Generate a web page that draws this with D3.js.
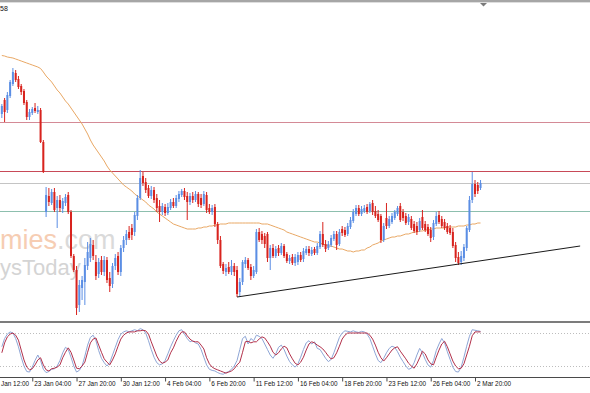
<!DOCTYPE html>
<html>
<head>
<meta charset="utf-8">
<script src="https://cdn.jsdelivr.net/npm/d3@7"></script>
<style>
  html, body { margin: 0; padding: 0; background: #fff; overflow: hidden; }
  svg { display: block; font-family: "Liberation Sans", Arial, sans-serif; }
</style>
</head>
<body>
<div id="chart"></div>
<script>
// H4 bars, bar 0 = 20 Jan 12:00, first bar drawn is 5
const firstBar = 5;

const open = [
  1.1486,1.1500,1.1490,1.1504,1.1516,1.1527,1.1521,1.1514,1.1509,1.1498,
  1.1483,1.1487,1.1492,1.1488,1.1490,1.1458,1.1388,1.1404,1.1397,1.1408,
  1.1392,1.1400,1.1391,1.1397,1.1405,1.1388,1.1344,1.1330,1.1295,1.1312,
  1.1318,1.1334,1.1342,1.1355,1.1338,1.1326,1.1340,1.1328,1.1340,1.1322,
  1.1316,1.1334,1.1344,1.1328,1.1352,1.1360,1.1368,1.1372,1.1368,1.1384,
  1.1402,1.1424,1.1418,1.1412,1.1404,1.1410,1.1402,1.1394,1.1388,1.1393,
  1.1387,1.1392,1.1398,1.1394,1.1401,1.1405,1.1409,1.1404,1.1398,1.1404,
  1.1400,1.1406,1.1402,1.1396,1.1405,1.1392,1.1388,1.1393,1.1376,1.1360,
  1.1336,1.1328,1.1333,1.1328,1.1334,1.1330,1.1308,1.1318,1.1336,1.1340,
  1.1333,1.1324,1.1328,1.1368,1.1366,1.1364,1.1366,1.1342,1.1352,1.1344,
  1.1352,1.1347,1.1354,1.1346,1.1339,1.1343,1.1337,1.1338,1.1345,1.1341,
  1.1347,1.1351,1.1346,1.1351,1.1347,1.1353,1.1366,1.1356,1.1352,1.1355,
  1.1361,1.1366,1.1356,1.1371,1.1370,1.1366,1.1373,1.1379,1.1386,1.1392,
  1.1386,1.1389,1.1393,1.1389,1.1397,1.1389,1.1386,1.1384,1.1360,1.1382,
  1.1374,1.1378,1.1382,1.1386,1.1394,1.1388,1.1384,1.1378,1.1381,1.1376,
  1.1374,1.1370,1.1383,1.1376,1.1373,1.1370,1.1363,1.1376,1.1385,1.1381,
  1.1378,1.1374,1.1372,1.1368,1.1355,1.1343,1.1338,1.1342,1.1352,1.1370,
  1.1400,1.1416,1.1415,1.1412
];
const close = [
  1.1494,1.1488,1.1505,1.1518,1.1528,1.1520,1.1513,1.1508,1.1497,1.1483,
  1.1488,1.1491,1.1489,1.1490,1.1458,1.1428,1.1405,1.1398,1.1408,1.1390,
  1.1400,1.1392,1.1399,1.1403,1.1388,1.1344,1.1330,1.1292,1.1315,1.1320,
  1.1335,1.1348,1.1356,1.1344,1.1324,1.1338,1.1328,1.1340,1.1320,1.1314,
  1.1334,1.1342,1.1328,1.1352,1.1360,1.1366,1.1362,1.1365,1.1385,1.1402,
  1.1422,1.1417,1.1410,1.1404,1.1410,1.1400,1.1392,1.1388,1.1394,1.1387,
  1.1393,1.1398,1.1394,1.1402,1.1406,1.1409,1.1403,1.1398,1.1404,1.1400,
  1.1406,1.1396,1.1395,1.1406,1.1390,1.1388,1.1392,1.1376,1.1360,1.1334,
  1.1329,1.1332,1.1328,1.1334,1.1328,1.1306,1.1318,1.1338,1.1340,1.1332,
  1.1324,1.1330,1.1368,1.1360,1.1360,1.1356,1.1342,1.1352,1.1344,1.1351,
  1.1347,1.1354,1.1344,1.1339,1.1342,1.1337,1.1343,1.1345,1.1340,1.1349,
  1.1351,1.1347,1.1350,1.1347,1.1354,1.1366,1.1355,1.1351,1.1356,1.1362,
  1.1366,1.1355,1.1368,1.1367,1.1365,1.1374,1.1380,1.1388,1.1392,1.1386,
  1.1391,1.1392,1.1388,1.1396,1.1388,1.1384,1.1380,1.1360,1.1374,1.1374,
  1.1381,1.1384,1.1388,1.1392,1.1380,1.1382,1.1377,1.1383,1.1372,1.1369,
  1.1368,1.1379,1.1372,1.1370,1.1366,1.1362,1.1377,1.1384,1.1378,1.1374,
  1.1372,1.1368,1.1367,1.1354,1.1342,1.1337,1.1344,1.1353,1.1372,1.1400,
  1.1416,1.1406,1.1409,1.1417
];
const high = [
  1.1496,1.1502,1.1508,1.1520,1.1532,1.1530,1.1524,1.1516,1.1511,1.1500,
  1.1491,1.1493,1.1497,1.1494,1.1492,1.1460,1.1413,1.1412,1.1411,1.1412,
  1.1404,1.1405,1.1402,1.1406,1.1408,1.1390,1.1346,1.1334,1.1320,1.1324,
  1.1342,1.1358,1.1362,1.1360,1.1345,1.1342,1.1344,1.1344,1.1343,1.1328,
  1.1337,1.1346,1.1348,1.1355,1.1364,1.1370,1.1374,1.1376,1.1388,1.1405,
  1.1430,1.1428,1.1422,1.1415,1.1414,1.1413,1.1406,1.1400,1.1397,1.1396,
  1.1397,1.1401,1.1402,1.1405,1.1409,1.1411,1.1412,1.1408,1.1407,1.1408,
  1.1409,1.1408,1.1406,1.1409,1.1408,1.1396,1.1395,1.1396,1.1378,1.1364,
  1.1338,1.1336,1.1338,1.1340,1.1337,1.1334,1.1322,1.1340,1.1343,1.1342,
  1.1336,1.1334,1.1371,1.1372,1.1369,1.1367,1.1368,1.1355,1.1356,1.1354,
  1.1355,1.1357,1.1356,1.1348,1.1345,1.1346,1.1346,1.1348,1.1348,1.1352,
  1.1354,1.1354,1.1353,1.1353,1.1357,1.1369,1.1378,1.1360,1.1359,1.1365,
  1.1369,1.1369,1.1371,1.1374,1.1373,1.1377,1.1383,1.1391,1.1395,1.1395,
  1.1394,1.1395,1.1396,1.1398,1.1400,1.1394,1.1390,1.1386,1.1377,1.1397,
  1.1384,1.1387,1.1390,1.1394,1.1397,1.1391,1.1387,1.1386,1.1384,1.1379,
  1.1378,1.1382,1.1390,1.1379,1.1376,1.1373,1.1380,1.1388,1.1389,1.1384,
  1.1381,1.1377,1.1375,1.1372,1.1358,1.1348,1.1349,1.1356,1.1374,1.1404,
  1.1428,1.1420,1.1418,1.1420
];
const low = [
  1.1482,1.1478,1.1487,1.1502,1.1514,1.1518,1.1511,1.1505,1.1495,1.1480,
  1.1480,1.1485,1.1487,1.1486,1.1457,1.1427,1.1383,1.1394,1.1395,1.1388,
  1.1372,1.1388,1.1387,1.1394,1.1386,1.1342,1.1328,1.1285,1.1288,1.1300,
  1.1295,1.1330,1.1338,1.1340,1.1320,1.1322,1.1325,1.1324,1.1317,1.1308,
  1.1312,1.1330,1.1325,1.1324,1.1348,1.1355,1.1360,1.1360,1.1364,1.1380,
  1.1400,1.1414,1.1407,1.1402,1.1401,1.1397,1.1388,1.1378,1.1385,1.1384,
  1.1385,1.1390,1.1392,1.1392,1.1398,1.1403,1.1400,1.1380,1.1395,1.1397,
  1.1398,1.1393,1.1392,1.1394,1.1387,1.1386,1.1385,1.1373,1.1356,1.1332,
  1.1326,1.1324,1.1326,1.1325,1.1324,1.1303,1.1304,1.1315,1.1332,1.1330,
  1.1320,1.1322,1.1326,1.1358,1.1356,1.1352,1.1338,1.1330,1.1342,1.1342,
  1.1344,1.1345,1.1342,1.1337,1.1336,1.1335,1.1334,1.1335,1.1338,1.1338,
  1.1345,1.1344,1.1344,1.1345,1.1345,1.1351,1.1353,1.1348,1.1350,1.1353,
  1.1359,1.1350,1.1354,1.1364,1.1363,1.1364,1.1371,1.1377,1.1384,1.1384,
  1.1384,1.1387,1.1386,1.1387,1.1385,1.1382,1.1378,1.1357,1.1358,1.1371,
  1.1372,1.1376,1.1380,1.1384,1.1378,1.1379,1.1375,1.1375,1.1370,1.1367,
  1.1365,1.1368,1.1370,1.1368,1.1364,1.1358,1.1360,1.1374,1.1376,1.1372,
  1.1370,1.1366,1.1365,1.1352,1.1338,1.1335,1.1335,1.1339,1.1349,1.1368,
  1.1397,1.1403,1.1406,1.1410
];

// moving average
const maValues = [
  1.15445,1.1544,1.1543,1.15425,1.1542,1.1541,1.1540,1.1539,1.1538,1.1537,
  1.1536,1.1535,1.1534,1.1533,1.15315,1.1528,1.1524,1.1521,1.1518,1.1514,
  1.1510,1.1507,1.1503,1.1499,1.1496,1.1492,1.1488,1.1484,1.1480,1.1476,
  1.1471,1.1466,1.1460,1.1455,1.1451,1.1447,1.1443,1.1439,1.1434,1.1430,
  1.1427,1.1424,1.1421,1.1418,1.1415,1.1413,1.1411,1.1409,1.1406,1.1404,
  1.1402,1.1400,1.1398,1.1395,1.1393,1.1391,1.1388,1.1386,1.1384,1.1382,
  1.1380,1.1378,1.1376,1.1375,1.1374,1.1373,1.1372,1.1371,1.1371,1.1371,
  1.1371,1.1372,1.1372,1.1373,1.1373,1.1374,1.1374,1.1375,1.1375,1.1376,
  1.1376,1.1376,1.1377,1.1377,1.1377,1.1377,1.1377,1.1377,1.1377,1.1377,
  1.1377,1.1377,1.1377,1.1377,1.1376,1.1376,1.1376,1.1375,1.1374,1.1373,
  1.1372,1.1371,1.1370,1.1368,1.1367,1.1366,1.1365,1.1364,1.1363,1.1362,
  1.1361,1.1360,1.1359,1.1358,1.1358,1.1357,1.1356,1.1355,1.1354,1.1354,
  1.1353,1.1352,1.1351,1.1351,1.1350,1.1349,1.1349,1.1348,1.1349,1.1349,
  1.1350,1.1350,1.1352,1.1353,1.1355,1.1356,1.1357,1.1359,1.1360,1.1361,
  1.1362,1.1363,1.1363,1.1364,1.1364,1.1365,1.1366,1.1366,1.1367,1.1368,
  1.1368,1.1369,1.1369,1.1370,1.1370,1.1371,1.1371,1.1372,1.1372,1.1372,
  1.1372,1.1373,1.1373,1.1373,1.1373,1.1374,1.1374,1.1374,1.1375,1.1375,
  1.1376,1.1376,1.1377,1.1377
];

// stochastic oscillator: fast (blue) and signal (red)
const stochMain = [
  55,70,78,82,80,70,55,36,20,10,
  9,18,30,40,30,14,8,10,14,15,
  20,30,44,54,50,36,20,9,12,20,
  38,58,72,76,66,48,34,26,20,26,
  40,54,68,78,82,84,82,84,86,84,
  88,86,80,66,50,36,26,22,24,30,
  42,55,66,76,84,86,78,70,64,66,
  62,60,50,36,22,14,12,11,8,6,
  5,8,10,14,20,30,50,70,74,60,
  70,66,76,74,70,60,50,40,34,42,
  54,58,50,38,28,22,18,24,36,50,
  62,66,60,64,52,50,42,34,28,32,
  44,58,72,80,84,83,82,84,82,81,
  83,82,78,70,56,42,30,26,34,44,
  52,56,54,46,36,28,20,14,16,26,
  40,52,44,32,22,18,30,48,60,70,
  62,46,32,18,10,9,18,36,56,74,
  86,85,84,83
];
const stochSignal = [
  44,62,73,78,80,76,67,49,31,18,
  13,15,22,31,35,22,13,11,15,16,
  18,22,35,45,53,45,31,16,15,20,
  27,45,62,69,71,58,45,33,27,22,
  31,42,56,69,76,80,82,82,82,84,
  84,85,84,78,64,51,38,29,25,27,
  31,44,53,65,75,82,82,75,69,65,
  64,64,58,51,35,24,18,15,13,11,
  9,7,9,11,15,22,27,45,64,65,
  62,64,64,69,73,71,64,56,45,40,
  44,51,56,53,42,33,25,22,27,36,
  49,60,64,62,58,55,51,45,38,33,
  35,44,56,69,76,80,80,80,80,80,
  80,80,80,76,69,58,45,35,29,35,
  42,49,53,55,47,40,33,25,20,16,
  24,35,47,42,31,24,22,36,49,60,
  65,55,42,29,20,15,16,24,40,56,
  75,82,82,82
];
const stochLevels = [80, 20];

// horizontal levels and the support trendline
const levelPrices = [1.1478, 1.1429, 1.1417, 1.1389];
const trendBars = [90, 214];
const trendPrices = [1.1303, 1.1354];

// time axis (the first label is cut by the left edge in the original)
const tickBars = [0, 16, 32, 48, 64, 80, 96, 112, 128, 144, 160, 176];
const tickLabels = ["Jan 12:00", "23 Jan 04:00", "27 Jan 20:00", "30 Jan 12:00",
  "4 Feb 04:00", "6 Feb 20:00", "11 Feb 12:00", "16 Feb 04:00", "18 Feb 20:00",
  "23 Feb 12:00", "26 Feb 04:00", "2 Mar 20:00"];

const width = 590, height = 393;
const levelColors = ["#d48a96", "#c84a58", "#c4c4c4", "#8dbfae"];
const bullColor = "#5b8ee4", bearColor = "#d8231e";

const svg = d3.select("#chart").append("svg")
  .attr("width", width)
  .attr("height", height);

svg.append("rect").attr("width", width).attr("height", height).attr("fill", "#fff");

const x = d3.scaleLinear().domain([0, 176]).range([-12, 475]);
const y = d3.scaleLinear().domain([1.1600, 1.1280]).range([0, 320]);
const ys = d3.scaleLinear().domain([0, 100]).range([377, 322]);

const bars = open.map((o, k) => ({
  i: firstBar + k, o, h: high[k], l: low[k], c: close[k], ma: maValues[k],
  k1: stochMain[k], k2: stochSignal[k]
}));

// top frame
svg.append("rect").attr("x", 0).attr("y", 0).attr("width", width).attr("height", 2).attr("fill", "#a6a6a6");
svg.append("line").attr("x1", 0).attr("x2", width).attr("y1", 2.5).attr("y2", 2.5)
  .attr("stroke", "#dedede");
svg.append("path").attr("d", "M480,3L487,3L483.5,6.5Z").attr("fill", "#7a7a7a");

svg.append("text").attr("x", 0).attr("y", 10.5)
  .attr("font-size", 7).attr("fill", "#111").text("58");

// main pane
svg.append("clipPath").attr("id", "mainClip")
  .append("rect").attr("x", 0).attr("y", 3).attr("width", width).attr("height", 318);
const main = svg.append("g").attr("clip-path", "url(#mainClip)");

// watermark
const wm1 = main.append("text").attr("x", 0).attr("y", 249)
  .attr("font-size", 27).attr("font-family", "Liberation Sans, Arial, sans-serif");
wm1.append("tspan").attr("fill", "#f6cdb3").text("mies");
wm1.append("tspan").attr("fill", "#dadada").text(".com");
main.append("text").attr("x", 0).attr("y", 275)
  .attr("font-size", 22).attr("fill", "#d4d4d4").text("ysToday");

main.selectAll("line.level")
  .data(levelPrices)
  .join("line")
  .attr("class", "level")
  .attr("x1", 0).attr("x2", width)
  .attr("y1", d => Math.round(y(d)) + 0.5)
  .attr("y2", d => Math.round(y(d)) + 0.5)
  .attr("stroke", (d, k) => levelColors[k])
  .attr("stroke-width", 1);

const maLine = d3.line().x(d => x(d.i)).y(d => y(d.ma));
main.append("path")
  .attr("d", maLine(bars))
  .attr("fill", "none")
  .attr("stroke", "#e9a865")
  .attr("stroke-width", 1);

const candle = main.append("g").selectAll("g")
  .data(bars)
  .join("g")
  .attr("fill", d => d.c >= d.o ? bullColor : bearColor)
  .attr("stroke", d => d.c >= d.o ? bullColor : bearColor);

candle.append("line")
  .attr("x1", d => x(d.i)).attr("x2", d => x(d.i))
  .attr("y1", d => y(d.h)).attr("y2", d => y(d.l))
  .attr("stroke-width", 1);

candle.append("rect")
  .attr("x", d => x(d.i) - 1)
  .attr("width", 2)
  .attr("y", d => y(Math.max(d.o, d.c)))
  .attr("height", d => Math.max(1, Math.abs(y(d.o) - y(d.c))))
  .attr("stroke", "none");

main.append("line")
  .attr("x1", x(trendBars[0])).attr("y1", y(trendPrices[0]))
  .attr("x2", x(trendBars[1])).attr("y2", y(trendPrices[1]))
  .attr("stroke", "#1a1a1a")
  .attr("stroke-width", 1);

// pane separator
svg.append("line").attr("x1", 0).attr("x2", width).attr("y1", 322).attr("y2", 322)
  .attr("stroke", "#7c7c7c").attr("stroke-width", 2);

// oscillator pane
const osc = svg.append("g");
osc.selectAll("line.lvl")
  .data(stochLevels)
  .join("line")
  .attr("class", "lvl")
  .attr("x1", 0).attr("x2", width)
  .attr("y1", d => Math.round(ys(d)) + 0.5)
  .attr("y2", d => Math.round(ys(d)) + 0.5)
  .attr("stroke", "#bdbdbd")
  .attr("stroke-dasharray", "1,2");

osc.append("path")
  .attr("d", d3.line().x(d => x(d.i)).y(d => ys(d.k1))(bars))
  .attr("fill", "none").attr("stroke", "#8ea6d6").attr("stroke-width", 1);
osc.append("path")
  .attr("d", d3.line().x(d => x(d.i)).y(d => ys(d.k2))(bars))
  .attr("fill", "none").attr("stroke", "#b2304a").attr("stroke-width", 1);

// time axis
svg.append("line").attr("x1", 0).attr("x2", width).attr("y1", 377.5).attr("y2", 377.5)
  .attr("stroke", "#4a4a4a");

const axis = svg.append("g")
  .attr("transform", "translate(0,377.5)")
  .call(d3.axisBottom(x)
    .tickValues(tickBars)
    .tickFormat((d, k) => tickLabels[k])
    .tickSize(4)
    .tickPadding(1));
axis.select(".domain").remove();
axis.selectAll(".tick line").attr("stroke", "#4a4a4a");
axis.selectAll(".tick text")
  .attr("text-anchor", "start")
  .attr("x", d => Math.max(1.5, 0.5 - x(d)))
  .attr("dy", "0.55em")
  .attr("font-size", 6.4)
  .attr("font-family", "Liberation Sans, Arial, sans-serif")
  .attr("fill", "#111");
</script>
</body>
</html>
